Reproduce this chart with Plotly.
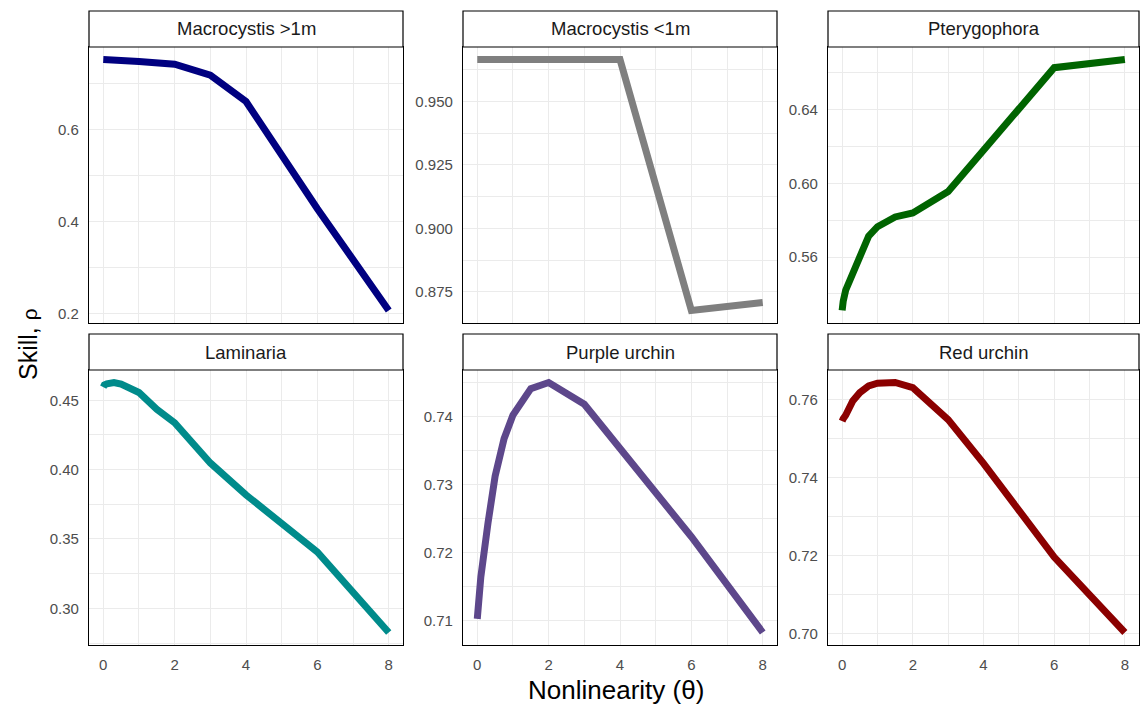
import plotly.graph_objects as go

theta = [0, 0.0001, 0.0003, 0.001, 0.003, 0.01, 0.03, 0.1, 0.3, 0.5, 0.75, 1, 1.5, 2, 3, 4, 6, 8]

species = ["Macrocystis >1m", "Macrocystis <1m", "Pterygophora",
           "Laminaria", "Purple urchin", "Red urchin"]

mac_gt1 = [0.752, 0.752, 0.752, 0.752, 0.752, 0.752, 0.752, 0.752, 0.751, 0.750,
           0.749, 0.748, 0.746, 0.742, 0.718, 0.661, 0.428, 0.207]
mac_lt1 = [0.9665, 0.9665, 0.9665, 0.9665, 0.9665, 0.9665, 0.9665, 0.9665, 0.9665,
           0.9665, 0.9665, 0.9665, 0.9665, 0.9665, 0.9665, 0.9665, 0.8677, 0.8708]
ptery = [0.531, 0.531, 0.531, 0.531, 0.532, 0.533, 0.536, 0.542, 0.5513, 0.5619,
         0.5714, 0.5765, 0.5818, 0.584, 0.5956, 0.618, 0.6629, 0.6673]
lamin = [0.4595, 0.4595, 0.4596, 0.4597, 0.4600, 0.4605, 0.4610, 0.4618, 0.4628,
         0.4616, 0.4592, 0.4556, 0.4435, 0.4338, 0.4048, 0.3818, 0.3406, 0.2826]
purple = [0.7102, 0.7102, 0.7102, 0.7103, 0.7104, 0.7108, 0.7120, 0.7164, 0.7243,
          0.7312, 0.7367, 0.7402, 0.7441, 0.7450, 0.7418, 0.7354, 0.7223, 0.7082]
red = [0.7544, 0.7544, 0.7544, 0.7544, 0.7545, 0.7547, 0.7550, 0.7559, 0.7596,
       0.7617, 0.7634, 0.7641, 0.7643, 0.7630, 0.7548, 0.7436, 0.7196, 0.7003]

series = [mac_gt1, mac_lt1, ptery, lamin, purple, red]
colors = ["#000080", "#7F7F7F", "#006400", "#008B8B", "#5D478B", "#8B0000"]
y_dticks = [0.2, 0.025, 0.04, 0.05, 0.01, 0.02]
y_formats = [".1f", ".3f", ".2f", ".2f", ".2f", ".2f"]

W, H = 1140, 707
col_px = [(89, 403), (463, 777), (828, 1139)]
row_px = [(47, 323), (370, 645)]
strip_px = [(11, 47), (334, 370)]

FONT = "Liberation Sans, Arial, sans-serif"
GRID = "#EBEBEB"
TICKFONT = dict(size=15, color="#4D4D4D", family=FONT)

fig = go.Figure()
layout = dict(
    width=W, height=H,
    margin=dict(l=0, r=0, t=0, b=0),
    paper_bgcolor="white", plot_bgcolor="white",
    showlegend=False,
    font=dict(family=FONT),
)
shapes = []
annotations = []

for i, (name, ys, col) in enumerate(zip(species, series, colors)):
    r, c = divmod(i, 3)
    ax = "" if i == 0 else str(i + 1)
    x0, x1 = col_px[c]
    y0, y1 = row_px[r]
    fig.add_trace(go.Scatter(
        x=theta, y=ys, mode="lines", name=name,
        line=dict(color=col, width=7),
        xaxis="x" + ax, yaxis="y" + ax,
    ))
    lo, hi = min(ys), max(ys)
    pad = (hi - lo) * 0.05
    layout["xaxis" + ax] = dict(
        domain=[x0 / W, x1 / W], anchor="y" + ax,
        range=[-0.4, 8.4], dtick=2, tick0=0,
        showgrid=True, gridcolor=GRID, gridwidth=1.1,
        minor=dict(dtick=1, tick0=0, showgrid=True, gridcolor=GRID, gridwidth=0.6),
        zeroline=False, ticks="",
        showticklabels=(r == 1),
        tickfont=TICKFONT, ticklabelstandoff=6,
        showline=True, mirror=True, linecolor="black", linewidth=1.2,
    )
    layout["yaxis" + ax] = dict(
        domain=[1 - y1 / H, 1 - y0 / H], anchor="x" + ax,
        range=[lo - pad, hi + pad], dtick=y_dticks[i], tick0=0,
        tickformat=y_formats[i],
        showgrid=True, gridcolor=GRID, gridwidth=1.1,
        minor=dict(dtick=y_dticks[i] / 2, tick0=0, showgrid=True,
                   gridcolor=GRID, gridwidth=0.6),
        zeroline=False, ticks="",
        tickfont=TICKFONT, ticklabelstandoff=6,
        showline=True, mirror=True, linecolor="black", linewidth=1.2,
    )
    s0, s1 = strip_px[r]
    shapes.append(dict(
        type="rect", xref="paper", yref="paper",
        x0=x0 / W, x1=x1 / W, y0=1 - s1 / H, y1=1 - s0 / H,
        fillcolor="white", line=dict(color="black", width=1.2), layer="above",
    ))
    annotations.append(dict(
        text=name, xref="paper", yref="paper",
        x=(x0 + x1) / 2 / W, y=1 - (s0 + s1) / 2 / H,
        xanchor="center", yanchor="middle", showarrow=False,
        font=dict(size=18.5, color="#1A1A1A", family=FONT),
    ))

annotations.append(dict(
    text="Skill, <span style='font-size:21px'>ρ</span>", xref="paper", yref="paper",
    x=28 / W, y=1 - 344 / H, xanchor="center", yanchor="middle",
    textangle=-90, showarrow=False,
    font=dict(size=25, color="black", family=FONT),
))
annotations.append(dict(
    text="Nonlinearity (θ)", xref="paper", yref="paper",
    x=616 / W, y=1 - 690 / H, xanchor="center", yanchor="middle",
    showarrow=False,
    font=dict(size=26, color="black", family=FONT),
))

layout["shapes"] = shapes
layout["annotations"] = annotations
fig.update_layout(**layout)
fig.write_html("out.html")
